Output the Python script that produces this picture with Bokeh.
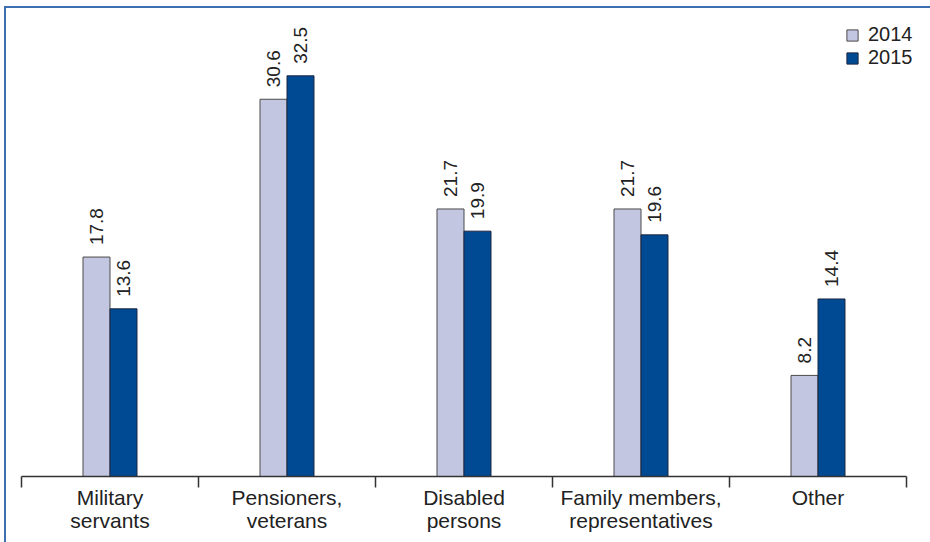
import numpy as np
from bokeh.plotting import figure
from bokeh.models import ColumnDataSource, Range1d, FixedTicker, Legend, LegendItem
from bokeh.core.properties import value
from bokeh.embed import file_html
from bokeh.resources import INLINE

categories = ["Military\nservants", "Pensioners,\nveterans", "Disabled\npersons",
              "Family members,\nrepresentatives", "Other"]
series_names = ["2014", "2015"]
v2014 = [17.8, 30.6, 21.7, 21.7, 8.2]
v2015 = [13.6, 32.5, 19.9, 19.6, 14.4]

FONT = "Liberation Sans"
LIGHT = "#c3c6e1"
DARK = "#004a93"
FRAME = "#3d6fb0"
W = 0.1525
N = len(categories)

idx = np.arange(N)
centers = idx + 0.5

src14 = ColumnDataSource(dict(x=centers - W / 2, top=v2014, lab=[f"{v:.1f}" for v in v2014]))
src15 = ColumnDataSource(dict(x=centers + W / 2, top=v2015, lab=[f"{v:.1f}" for v in v2015]))

p = figure(width=930, height=542, output_backend="svg", toolbar_location=None,
           x_range=Range1d(0, N + 12 / 177), y_range=Range1d(0, 37.15),
           min_border_left=21, min_border_right=12, min_border_top=18, min_border_bottom=66)
p.styles = {
    "background": (f"linear-gradient({FRAME},{FRAME}) 4px 6px / 2px 100% no-repeat, "
                   f"linear-gradient({FRAME},{FRAME}) 4px 6px / 100% 2px no-repeat, white"),
}
p.border_fill_alpha = 0
p.outline_line_color = None
p.background_fill_color = "white"
p.grid.visible = False
p.yaxis.visible = False

r14 = p.vbar(x="x", top="top", width=W, bottom=0, source=src14,
             fill_color=LIGHT, line_color="#4a4a4a", line_width=1)
r15 = p.vbar(x="x", top="top", width=W, bottom=0, source=src15,
             fill_color=DARK, line_color="#1c2540", line_width=1)

for s in (src14, src15):
    p.text(x="x", y="top", text="lab", source=s, angle=np.pi / 2,
           text_align="left", text_baseline="middle", y_offset=-12,
           text_font=value(FONT), text_font_size="19px", text_color="#222222")

xa = p.xaxis[0]
xa.bounds = (0, N)
xa.ticker = FixedTicker(ticks=list(centers), minor_ticks=list(range(N + 1)))
xa.major_label_overrides = {float(c): lab for c, lab in zip(centers, categories)}
xa.major_tick_out = 0
xa.major_tick_in = 0
xa.minor_tick_out = 11
xa.minor_tick_in = 0
xa.minor_tick_line_color = "#333333"
xa.minor_tick_line_width = 1.5
xa.axis_line_color = "#333333"
xa.axis_line_width = 1.5
xa.major_label_standoff = -2
xa.major_label_text_font = FONT
xa.major_label_text_font_size = "21px"
xa.major_label_text_line_height = 1.0
xa.major_label_text_color = "#222222"

legend = Legend(items=[LegendItem(label=series_names[0], renderers=[r14]),
                       LegendItem(label=series_names[1], renderers=[r15])],
                location=(824, 407), orientation="vertical",
                glyph_width=14, glyph_height=14, label_standoff=9, spacing=0,
                padding=0, margin=0, label_text_font=FONT, label_text_font_size="20px",
                label_text_color="#222222", border_line_color=None,
                background_fill_alpha=0)
p.add_layout(legend)

open("out.html", "w").write(file_html(p, INLINE))
